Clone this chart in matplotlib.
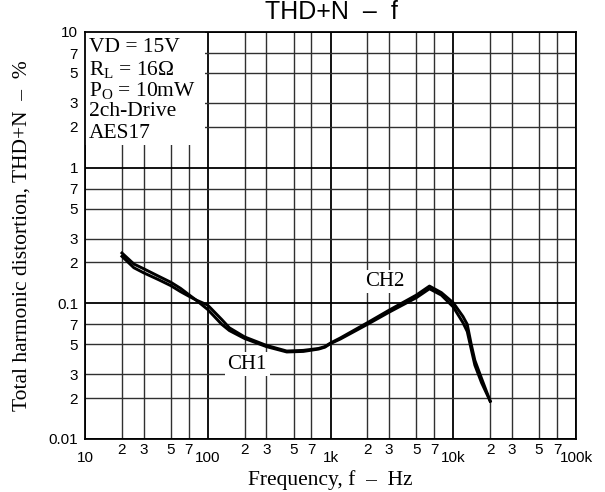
import numpy as np
import matplotlib
matplotlib.use("Agg")
import matplotlib.pyplot as plt
from matplotlib.ticker import FixedLocator, FixedFormatter
from matplotlib.patches import Rectangle

plt.rcParams['font.family'] = 'Liberation Sans'
plt.rcParams['mathtext.fontset'] = 'custom'
plt.rcParams['mathtext.rm'] = 'Liberation Serif'
plt.rcParams['mathtext.it'] = 'Liberation Serif'

# curves (Hz, %)
freq = [20, 25, 30, 40, 50, 60, 70, 80, 100, 130, 150, 200, 300, 440, 600,
        800, 900, 1000, 1200, 2000, 3000, 5000, 6400, 8000, 10000, 12000,
        13000, 14000, 15000, 17000, 20000]
ch1 = [0.235, 0.195, 0.18, 0.158, 0.143, 0.129, 0.116, 0.106, 0.090, 0.070,
       0.063, 0.055, 0.048, 0.0438, 0.0442, 0.046, 0.0475, 0.0505, 0.0545,
       0.070, 0.086, 0.110, 0.128, 0.115, 0.094, 0.072, 0.062, 0.046, 0.035,
       0.026, 0.019]
ch2 = [0.222, 0.183, 0.168, 0.149, 0.135, 0.122, 0.113, 0.106, 0.097, 0.076,
       0.066, 0.0565, 0.049, 0.0445, 0.045, 0.0465, 0.048, 0.051, 0.0555,
       0.072, 0.089, 0.115, 0.134, 0.120, 0.101, 0.080, 0.070, 0.050, 0.038,
       0.028, 0.019]

x_major = [10, 100, 1000, 10000, 100000]
x_major_labels = ["10", "100", "1k", "10k", "100k"]
x_minor = [m * d for d in [10, 100, 1000, 10000] for m in [2, 3, 5, 7]]
x_minor_labels = ["2", "3", "5", "7"] * 4
y_major = [0.01, 0.1, 1, 10]
y_major_labels = ["0.01", "0.1", "1", "10"]
y_minor = [m * d for d in [0.01, 0.1, 1] for m in [2, 3, 5, 7]]
y_minor_labels = ["2", "3", "5", "7"] * 3

conditions = ["VD = 15V", r"R$_\mathrm{L}$ = 16Ω", r"P$_\mathrm{O}$ = 10mW",
              "2ch-Drive", "AES17"]

fig = plt.figure(figsize=(6.05, 4.92), dpi=100)
ax = fig.add_axes([85 / 605, 53 / 492, 491 / 605, 407 / 492])
ax.set_xscale('log')
ax.set_yscale('log')
ax.set_xlim(10, 100000)
ax.set_ylim(0.01, 10)

ax.xaxis.set_major_locator(FixedLocator(x_major))
ax.xaxis.set_major_formatter(FixedFormatter(x_major_labels))
ax.xaxis.set_minor_locator(FixedLocator(x_minor))
ax.xaxis.set_minor_formatter(FixedFormatter(x_minor_labels))
ax.yaxis.set_major_locator(FixedLocator(y_major))
ax.yaxis.set_major_formatter(FixedFormatter(y_major_labels))
ax.yaxis.set_minor_locator(FixedLocator(y_minor))
ax.yaxis.set_minor_formatter(FixedFormatter(y_minor_labels))

ax.tick_params(which='both', length=0, labelsize=11)
ax.tick_params(axis='x', which='major', pad=9)
ax.tick_params(axis='x', which='minor', pad=3)
ax.tick_params(axis='y', which='both', pad=5)

ax.set_axisbelow(True)
ax.grid(which='major', color='black', lw=1.3)
ax.grid(which='minor', color='#303030', lw=1.0)
for s in ax.spines.values():
    s.set_linewidth(1.3)

# white box behind the test conditions
ax.add_patch(Rectangle((0, 0.722), 0.244, 0.278, transform=ax.transAxes,
                       facecolor='white', edgecolor='none', zorder=1))
for i, t in enumerate(conditions):
    ax.text(4 / 491, 1 - (16 + 21.3 * i) / 407, t, transform=ax.transAxes,
            family='Liberation Serif', fontsize=15.5, va='center', ha='left',
            zorder=4)

ax.plot(freq, ch1, color='black', lw=2.1, zorder=3, solid_joinstyle='round')
ax.plot(freq, ch2, color='black', lw=2.1, zorder=3, solid_joinstyle='round')

ax.text(210, 0.0357, "CH1", family='Liberation Serif', fontsize=15,
        ha='center', va='center', zorder=4,
        bbox=dict(facecolor='white', edgecolor='none', pad=2))
ax.text(2780, 0.144, "CH2", family='Liberation Serif', fontsize=15,
        ha='center', va='center', zorder=4,
        bbox=dict(facecolor='white', edgecolor='none', pad=1.5))

fig.text(331 / 605, 1 - 12 / 492, "THD+N  –  f", fontsize=18,
         ha='center', va='center')
ax.set_xlabel("Frequency, f  –  Hz", family='Liberation Serif', fontsize=15.5,
              labelpad=3)
ax.set_ylabel("Total harmonic distortion, THD+N  –  %",
              family='Liberation Serif', fontsize=15.5, labelpad=12)

fig.savefig("out.png", dpi=100)
